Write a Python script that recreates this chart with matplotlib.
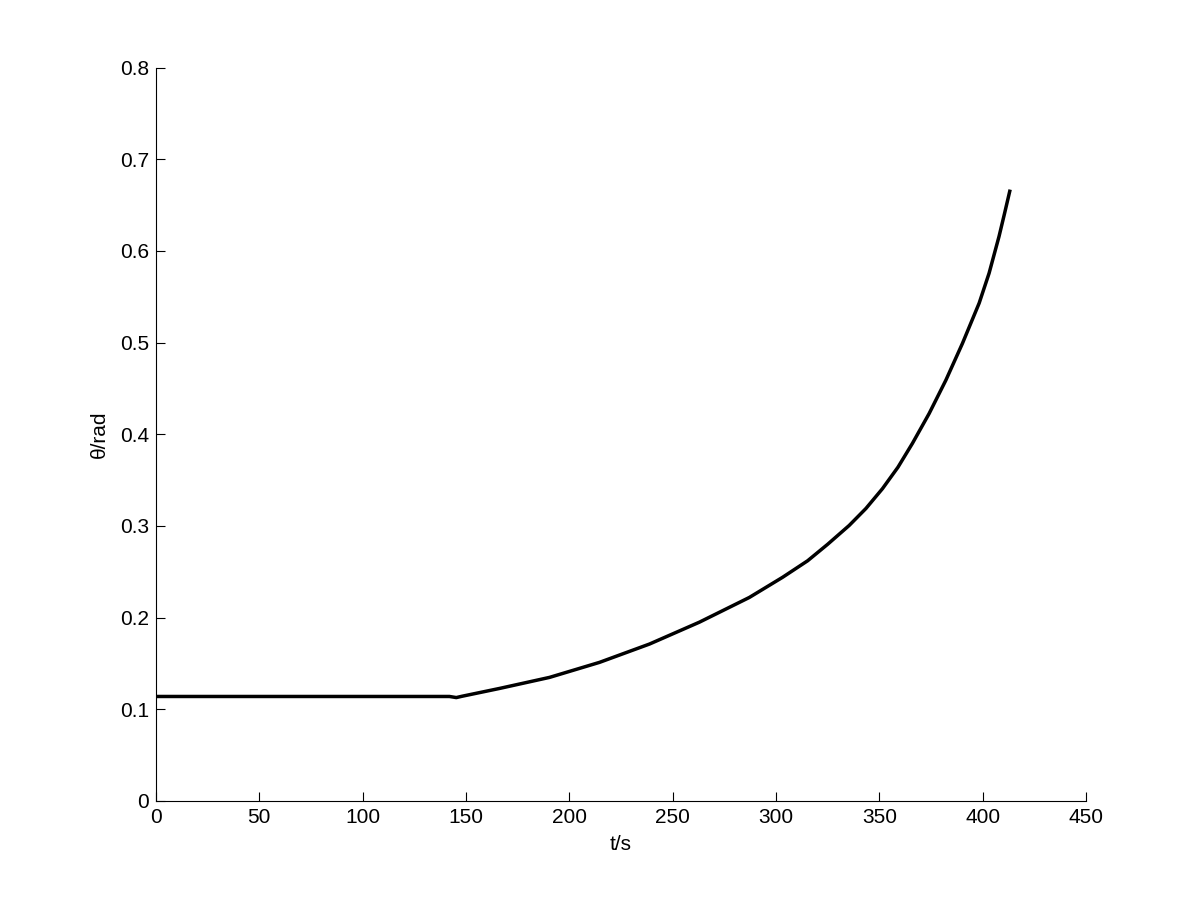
import numpy as np
import matplotlib.pyplot as plt

plt.rcParams['font.family'] = ['Liberation Sans', 'DejaVu Sans']

# values
t = [0, 50, 100, 142, 145.3, 148, 166.3, 190.4, 214.6, 238.8, 262.9, 287.1,
     303.2, 315.3, 325.0, 335.4, 343.5, 351.5, 359.0, 366.0, 374.1, 382.2, 390.2,
     398.3, 403.1, 407.9, 410.5, 413.1]
theta = [0.114, 0.114, 0.114, 0.114, 0.1128, 0.1142, 0.1228, 0.1348, 0.1512, 0.1712,
         0.195, 0.222, 0.244, 0.262, 0.280, 0.3005, 0.319, 0.3406, 0.364, 0.390,
         0.4226, 0.459, 0.499, 0.543, 0.5756, 0.6156, 0.640, 0.665]

fig = plt.figure(figsize=(12, 9), dpi=100)
ax = fig.add_axes([0.13, 0.11, 0.775, 0.815])
ax.plot(t, theta, color='black', linewidth=2.5)

ax.set_xlim(0, 450)
ax.set_ylim(0, 0.8)
ax.set_xticks(np.arange(0, 451, 50))
ax.set_yticks(np.arange(0, 0.81, 0.1))
ax.set_yticklabels(['0', '0.1', '0.2', '0.3', '0.4', '0.5', '0.6', '0.7', '0.8'])

ax.spines['top'].set_visible(False)
ax.spines['right'].set_visible(False)
ax.tick_params(direction='in', length=6.5, width=0.8, labelsize=15, pad=5)

ax.set_xlabel('t/s', fontsize=15, labelpad=6)
ax.set_ylabel('θ/rad', fontsize=15, labelpad=8)

fig.savefig('out.png', dpi=100)
